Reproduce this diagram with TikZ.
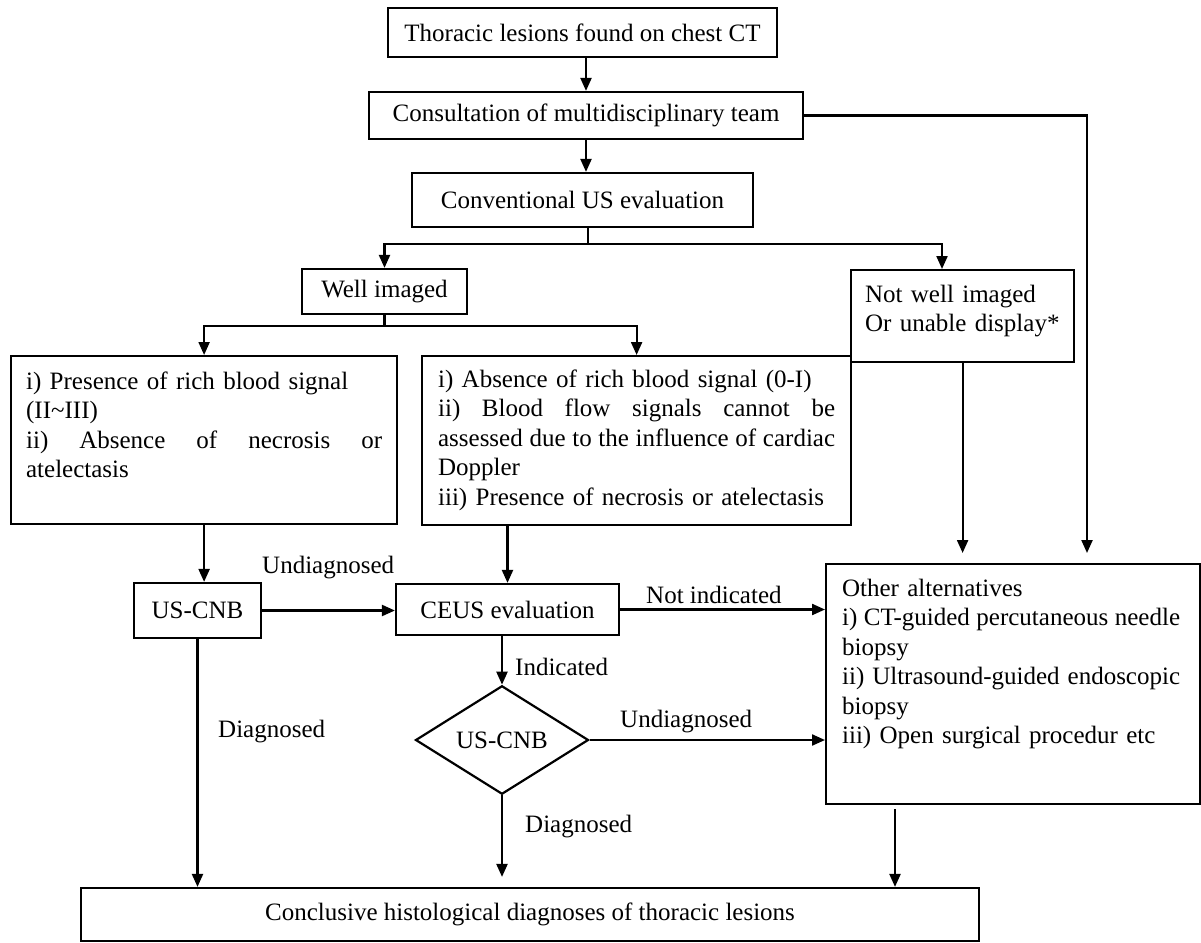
\documentclass[tikz,border=0pt]{standalone}
\usepackage{fontspec}
\setmainfont{Liberation Serif}
\usetikzlibrary{shapes.geometric,arrows.meta,calc}
\newcommand{\fillline}[2]{\makebox[#1][l]{#2}}
\begin{document}
\begin{tikzpicture}[x=1pt,y=-1pt,
  font=\fontsize{25}{29.5}\selectfont,
  box/.style={draw,line width=2.2pt,inner sep=0pt},
  tbox/.style={draw,line width=2.2pt,anchor=north west,align=left,inner xsep=16pt,inner ysep=15pt,text height=17pt},
  lbl/.style={inner sep=0pt,anchor=west},
  ln/.style={line width=2.2pt},
  arr/.style={line width=2.2pt,-{Triangle[width=11pt,length=13pt]}}]
\useasboundingbox (0,0) rectangle (1201,942);

\node[box,minimum width=389pt,minimum height=49pt] (b1) at (582.5,32.5) {Thoracic lesions found on chest CT};
\node[box,minimum width=434pt,minimum height=47pt] (b2) at (586,115.5) {Consultation of multidisciplinary team};
\node[box,minimum width=341pt,minimum height=54pt] (b3) at (582.5,200) {Conventional US evaluation};
\node[box,minimum width=165pt,minimum height=45pt] (well) at (384.5,291.5) {Well imaged};
\node[tbox,text width=195pt,inner xsep=14pt,text depth=45pt] (notwell) at (850,269) {Not well imaged\\Or unable display*};
\node[tbox,text width=356pt,inner xsep=15pt,inner ysep=16pt,text depth=119pt] (left) at (10,355) {i) Presence of rich blood signal\\(II\textasciitilde III)\\\fillline{356pt}{ii)\hfill Absence\hfill of\hfill necrosis\hfill or}\\atelectasis};
\node[tbox,text width=397pt,inner ysep=14pt,text depth=124pt] (mid) at (421,355) {i) Absence of rich blood signal (0-I)\\\fillline{397pt}{ii)\hfill Blood\hfill flow\hfill signals\hfill cannot\hfill be}\\\fillline{397pt}{assessed\hfill due\hfill to\hfill the\hfill influence\hfill of\hfill cardiac}\\Doppler\\iii) Presence of necrosis or atelectasis};
\node[tbox,text width=342pt,text depth=193pt] (other) at (825,563) {Other alternatives\\\fillline{338pt}{i)\hfill CT-guided\hfill percutaneous\hfill needle}\\biopsy\\\fillline{338pt}{ii)\hfill Ultrasound-guided\hfill endoscopic}\\biopsy\\iii) Open surgical procedur etc};
\node[box,minimum width=127pt,minimum height=55pt] (usc) at (197.5,610.5) {US-CNB};
\node[box,minimum width=223pt,minimum height=51pt] (ceus) at (507.5,609.5) {CEUS evaluation};
\node[draw,diamond,line width=2.2pt,inner sep=0pt,minimum width=173pt,minimum height=89pt] (dia) at (502,740) {US-CNB};
\node[box,minimum width=898pt,minimum height=53pt] (bot) at (530,914.5) {Conclusive histological diagnoses of thoracic lesions};

\node[lbl] (l1) at (262,568) {Undiagnosed};
\node[lbl] (l2) at (646,595) {Not indicated};
\node[lbl] (l3) at (515,667) {Indicated};
\node[lbl] (l4) at (218,732) {Diagnosed};
\node[lbl] (l5) at (620,722) {Undiagnosed};
\node[lbl] (l6) at (525,827) {Diagnosed};

\coordinate (s1) at (588,244);
\coordinate (s2) at (384.5,326);
\draw[arr] (b1.south -| b2.north) -- (b2.north);
\draw[arr] (b2.south) -- (b2.south |- b3.north);
\draw[ln] (b3.south -| s1) -- (s1);
\draw[arr] (s1) -| (well.north);
\draw[arr] (s1) -| ($(notwell.north west)+(92,0)$);
\draw[ln] (well.south) -- (s2);
\draw[arr] (s2) -| (left.north);
\draw[arr] (s2) -| (mid.north);
\draw[arr] (left.south) -- (left.south |- usc.north);
\draw[arr] (mid.south -| ceus.north) -- (ceus.north);
\draw[arr] (usc.east) -- (usc.east -| ceus.west);
\draw[arr] (ceus.east) -- (ceus.east -| other.west);
\draw[arr] (ceus.south -| dia.north) -- (dia.north);
\draw[arr] (dia.east) -- (dia.east -| other.west);
\draw[arr] (dia.south) -- ($(dia.south |- bot.north)+(0,-10)$);
\draw[arr] (usc.south) -- (usc.south |- bot.north);
\draw[arr] ($(other.south west)+(70,4)$) -- ($(other.south west |- bot.north)+(70,0)$);
\draw[arr] (notwell.south) -- ($(notwell.south |- other.north)+(0,-10)$);
\draw[arr] (b2.east) -| ($(other.north west)+(262,-10)$);
\end{tikzpicture}
\end{document}
